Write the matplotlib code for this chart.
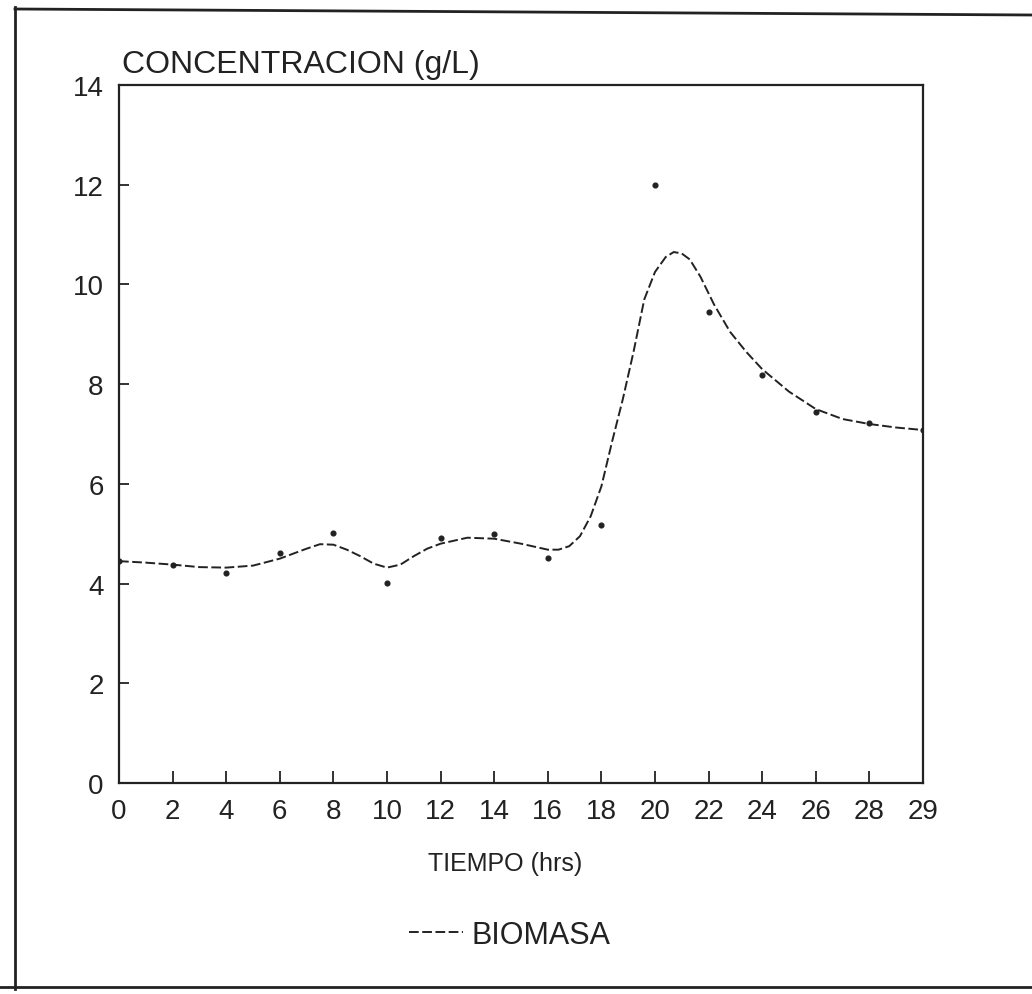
import numpy as np
import matplotlib
matplotlib.use("Agg")
import matplotlib.pyplot as plt
from matplotlib.lines import Line2D

plt.rcParams['font.family'] = ['Liberation Sans', 'DejaVu Sans']

# eje x: categorias igualmente espaciadas
etiquetas_t = ['0', '2', '4', '6', '8', '10', '12', '14', '16', '18',
               '20', '22', '24', '26', '28', '29']

# puntos medidos de biomasa (g/L)
biomasa = [4.45, 4.37, 4.22, 4.61, 5.01, 4.01, 4.91, 4.99, 4.51, 5.17,
           12.0, 9.45, 8.18, 7.44, 7.23, 7.09]

# curva ajustada (posicion de categoria, valor)
curva_pos = [0, 0.5, 1.0, 1.5, 2.0, 2.5, 3.0, 3.25, 3.5, 3.75, 4.0, 4.25,
             4.5, 4.75, 5.0, 5.25, 5.5, 5.75, 6.0, 6.5, 7.0, 7.5, 8.0, 8.2,
             8.4, 8.6, 8.8, 9.0, 9.2, 9.4, 9.6, 9.8, 10.0, 10.2, 10.35, 10.5,
             10.65, 10.85, 11.1, 11.4, 11.7, 12.0, 12.5, 13.0, 13.5, 14.0,
             14.5, 15.0]
curva_val = [4.45, 4.42, 4.38, 4.33, 4.32, 4.36, 4.5, 4.6, 4.7, 4.79, 4.78,
             4.68, 4.55, 4.4, 4.32, 4.38, 4.55, 4.7, 4.8, 4.92, 4.9, 4.8,
             4.68, 4.68, 4.75, 4.95, 5.35, 5.95, 6.85, 7.7, 8.65, 9.7, 10.25,
             10.55, 10.65, 10.62, 10.5, 10.15, 9.6, 9.05, 8.65, 8.3, 7.85,
             7.5, 7.3, 7.2, 7.13, 7.08]

W, H = 1032, 995
fig = plt.figure(figsize=(W / 100, H / 100), dpi=100)
ink = '#222222'

ax = fig.add_axes([119 / W, 1 - 784 / H, 804 / W, 698 / H])
x = np.arange(len(etiquetas_t))
ax.plot(curva_pos, curva_val, color=ink, lw=1.4, dashes=(5, 1.8), label='BIOMASA')
ax.plot(x, biomasa, ls='none', marker='o', ms=3.4, color=ink)

ax.set_xlim(0, len(etiquetas_t) - 1)
ax.set_ylim(0, 14)
ax.set_xticks(x)
ax.set_xticklabels(etiquetas_t)
ax.set_yticks(np.arange(0, 15, 2))
for s in ax.spines.values():
    s.set_linewidth(1.6)
    s.set_color(ink)
ax.tick_params(axis='x', direction='in', length=9, width=1.3, pad=11,
               labelsize=20, colors=ink)
ax.tick_params(axis='y', direction='in', length=7, width=1.3, pad=11,
               labelsize=20, colors=ink)

fig.text(122 / W, 1 - 65 / H, 'CONCENTRACION (g/L)', fontsize=23,
         color=ink, va='center', ha='left')
fig.text(505 / W, 1 - 864 / H, 'TIEMPO (hrs)', fontsize=18,
         color=ink, va='center', ha='center')

ax.legend(loc='center', bbox_to_anchor=(510 / W, 1 - 936 / H),
          bbox_transform=fig.transFigure, frameon=False, fontsize=22,
          handlelength=1.75, handletextpad=0.3, labelcolor=ink)

# marco exterior del escaneo
fig.add_artist(Line2D([15 / W, 15 / W], [1 - 8 / H, 1 - 990 / H],
                      transform=fig.transFigure, color=ink, lw=2))
fig.add_artist(Line2D([15 / W, 1.0], [1 - 10 / H, 1 - 16 / H],
                      transform=fig.transFigure, color=ink, lw=2))
fig.add_artist(Line2D([0.0, 1.0], [1 - 988 / H, 1 - 988 / H],
                      transform=fig.transFigure, color=ink, lw=2))

fig.savefig('out.png', dpi=100)
